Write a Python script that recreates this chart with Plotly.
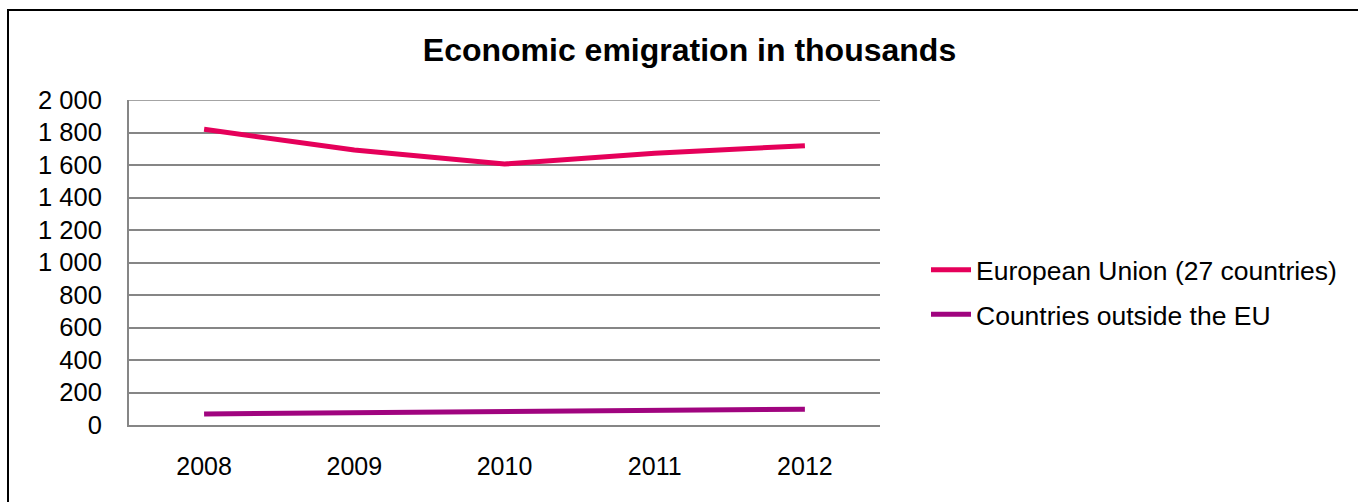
import plotly.graph_objects as go

years = ["2008", "2009", "2010", "2011", "2012"]
eu_values = [1820, 1692, 1606, 1672, 1719]
non_eu_values = [68, 74, 80, 88, 97]
y_tick_values = [0, 200, 400, 600, 800, 1000, 1200, 1400, 1600, 1800, 2000]
y_tick_labels = ["0", "200", "400", "600", "800", "1 000", "1 200", "1 400", "1 600", "1 800", "2 000"]
series_names = ["European Union (27 countries)", "Countries outside the EU"]

W, H = 1358, 502
L, R, T, B = 129, 880, 100, 425

fig = go.Figure()
fig.add_trace(go.Scatter(x=years, y=eu_values, mode="lines", name=series_names[0],
                         line=dict(color="#E5005A", width=5), legendgroup="a"))
fig.add_trace(go.Scatter(x=years, y=non_eu_values, mode="lines", name=series_names[1],
                         line=dict(color="#A0047F", width=5), legendgroup="b"))

font = "Liberation Sans, Arial, sans-serif"
fig.update_layout(
    width=W, height=H,
    margin=dict(l=L, r=W - R, t=T, b=H - B, autoexpand=False),
    paper_bgcolor="white", plot_bgcolor="white",
    font=dict(family=font, size=25, color="black"),
    title=dict(text="<b>Economic emigration in thousands</b>", x=(689.5 - L) / (R - L), xref="paper",
               xanchor="center", y=1 - 50 / H, yanchor="middle",
               font=dict(size=32, family=font, color="black")),
    xaxis=dict(type="category", range=[-0.5, 4.5], showgrid=False, showline=True,
               linecolor="#868686", linewidth=2, ticks="", tickfont=dict(size=25),
               ticklabelstandoff=18),
    yaxis=dict(range=[0, 2000], tickvals=y_tick_values, ticktext=y_tick_labels,
               showgrid=True, gridcolor="#868686", gridwidth=1.5, showline=True,
               linecolor="#868686", linewidth=2, ticks="", tickfont=dict(size=25.5),
               zeroline=False, ticklabelstandoff=20),
    legend=dict(x=(926 - L) / (R - L), xanchor="left", y=1 - (246 - T) / (B - T), yanchor="top",
                font=dict(size=26.5), tracegroupgap=7, itemwidth=40,
                bgcolor="rgba(0,0,0,0)"),
    showlegend=True,
)

# top gridline at the axis maximum
fig.add_shape(type="line", xref="paper", yref="y", x0=0, x1=1,
              y0=y_tick_values[-1], y1=y_tick_values[-1],
              line=dict(color="#868686", width=1.5), layer="below")

# outer chart border
fig.add_shape(type="rect", xref="paper", yref="paper",
              x0=(8 - L) / (R - L), x1=(1370 - L) / (R - L),
              y0=1 - (520 - T) / (B - T), y1=1 - (10 - T) / (B - T),
              line=dict(color="black", width=2), fillcolor="rgba(0,0,0,0)", layer="below")

fig.write_html("out.html")
